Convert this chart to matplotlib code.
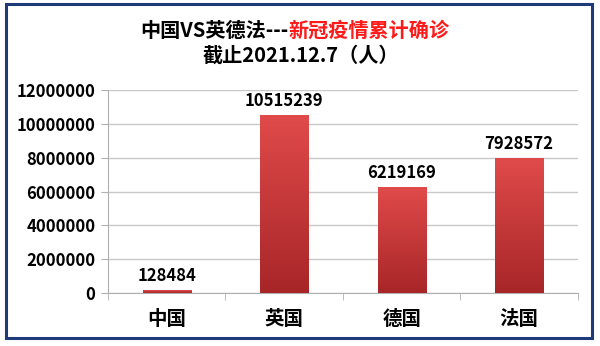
import matplotlib.pyplot as plt
import numpy as np
from matplotlib.patches import Rectangle

plt.rcParams['font.family'] = ['Noto Sans CJK SC', 'DejaVu Sans']

countries = ['中国', '英国', '德国', '法国']
cases = [128484, 10515239, 6219169, 7928572]
y_ticks = [0, 2000000, 4000000, 6000000, 8000000, 10000000, 12000000]

fig = plt.figure(figsize=(6, 3.46), dpi=100)
ax = fig.add_axes([0.18, 0.153, 0.783, 0.587])

x = np.arange(len(countries))
bars = ax.bar(x, cases, width=0.41, color='#C83436', edgecolor='#9A2022', linewidth=0.6, zorder=3)

# vertical gradient on each bar
grad = np.linspace(0, 1, 100).reshape(-1, 1)
cmap = plt.matplotlib.colors.LinearSegmentedColormap.from_list('r', ['#A82628', '#E04A4A'])
for b in bars:
    ax.imshow(grad, extent=(b.get_x(), b.get_x() + b.get_width(), 0, b.get_height()),
              origin='lower', aspect='auto', cmap=cmap, zorder=3.5)

for xi, v in zip(x, cases):
    ax.annotate(str(v), (xi, v), xytext=(0, 4), textcoords='offset points',
                ha='center', va='bottom', fontsize=12, fontweight='bold')

ax.set_xlim(-0.5, len(countries) - 0.5)
ax.set_ylim(0, 12000000)
ax.set_yticks(y_ticks)
ax.set_yticklabels([str(t) for t in y_ticks], fontsize=12, fontweight='bold')
ax.set_xticks(x)
ax.set_xticklabels(countries, fontsize=14, fontweight='bold')
ax.set_xticks(np.arange(-0.5, len(countries)), minor=True)
ax.tick_params(axis='x', which='major', length=0, pad=12)
ax.tick_params(axis='x', which='minor', length=5, color='#B0B0B0', direction='out')
ax.tick_params(axis='y', length=5, color='#B0B0B0', pad=4)
ax.grid(axis='y', color='#C8C8C8', linewidth=1, zorder=0)
for s in ['top', 'right']:
    ax.spines[s].set_visible(False)
ax.spines['left'].set_color('#B0B0B0')
ax.spines['bottom'].set_color('#B0B0B0')

# title in two colours
fig.text(0.48, 0.913, '中国VS英德法---', ha='right', va='center', fontsize=14.5, fontweight='bold', color='black')
fig.text(0.48, 0.913, '新冠疫情累计确诊', ha='left', va='center', fontsize=14.5, fontweight='bold', color='#FF1A1A')
fig.text(0.502, 0.841, '截止2021.12.7（人）', ha='center', va='center', fontsize=14.5, fontweight='bold')

fig.patches.append(Rectangle((0.01, 0.023), 0.977, 0.965, transform=fig.transFigure,
                             fill=False, edgecolor='#1F3A78', linewidth=2.2))

fig.savefig('out.png', dpi=100)
